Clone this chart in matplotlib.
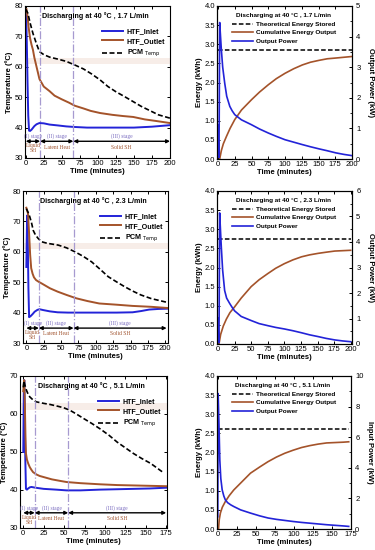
import matplotlib
matplotlib.use("Agg")
import matplotlib.pyplot as plt
from matplotlib.ticker import MultipleLocator, AutoMinorLocator

plt.rcParams['font.family'] = ['Liberation Sans', 'DejaVu Sans']
plt.rcParams['xtick.direction'] = 'in'
plt.rcParams['ytick.direction'] = 'in'

BLUE = '#2323d8'
BROWN = '#a4532a'
STAGE_C = '#7a6cc0'
HEAT_C = '#a0522d'
VLINE_C = '#a79ad0'

# ---------------- temperature data ----------------
titles = ['Discharging at 40 \u00b0C , 1.7 L/min',
          'Discharging at 40 \u00b0C , 2.3 L/min',
          'Discharging at 40 \u00b0C , 5.1 L/min']

# 1.7 L/min
t_in_1 = [0, 0.7, 1.5, 2.5, 3.5, 4.6, 6, 8, 10, 12, 15, 19, 25, 33, 45, 56, 68, 85, 103, 125, 150, 175, 200]
T_in_1 = [78, 76, 68, 55, 44, 39, 38.9, 39.3, 39.9, 40.5, 41.1, 41.5, 41.4, 41.0, 40.7, 40.4, 40.2,
          40.0, 40.0, 40.0, 40.0, 40.3, 40.8]
t_out_1 = [1, 2, 3, 4, 6, 8, 10, 12, 15, 19, 25, 33, 40, 50, 60, 68, 80, 90, 103, 120, 135, 149,
           165, 180, 200]
T_out_1 = [79, 77.5, 75.5, 73, 69.5, 67.3, 65.6, 63, 60, 56, 53.5, 52, 50.5, 49.3, 48.2, 47.2, 46.3,
           45.5, 44.8, 44.2, 43.8, 43.5, 42.7, 42.2, 41.5]
t_pcm_1 = [0, 3, 6, 10, 15, 19, 25, 33, 45, 56, 68, 80, 91, 103, 114, 125, 137, 150, 160, 172, 184, 200]
T_pcm_1 = [79, 77.6, 74.5, 71, 67.5, 65, 64, 63.2, 62.5, 61.8, 60.6, 59.3, 57.7, 55.7, 53.5, 51.8,
           50.2, 48.4, 47, 45.6, 44.2, 43.1]

# 2.3 L/min
t_in_2 = [0, 1, 1.5, 2.2, 3, 4, 6, 9, 12, 16, 19, 25, 34, 45, 60, 80, 100, 130, 153, 165, 177, 190, 204]
T_in_2 = [55, 70, 72, 62, 48, 38.5, 38.8, 39.5, 40.3, 40.9, 41.1, 40.8, 40.4, 40.1, 40.0, 40.0, 40.0,
          40.0, 40.1, 40.5, 41.0, 41.2, 41.3]
t_out_2 = [0, 2.4, 4, 5.5, 7, 9, 11, 14, 18, 22, 28, 34, 45, 58, 72, 88, 105, 130, 153, 180, 204]
T_out_2 = [74.5, 72.6, 66, 59, 54.6, 52.8, 51.6, 50.7, 50.1, 49.6, 48.8, 48, 46.9, 45.8, 44.7, 43.8,
           43, 42.6, 42.2, 41.9, 41.5]
t_pcm_2 = [0, 2.5, 5, 7.5, 10, 13, 17, 22, 30, 46, 58, 70, 82, 94, 106, 118, 130, 141, 153, 165, 180, 204]
T_pcm_2 = [74.2, 73, 71.5, 69.5, 67, 65.6, 64.4, 63.3, 62.8, 62.2, 61.3, 60, 58.5, 56.7, 54.3, 51.8,
           50.1, 48.6, 47.1, 45.8, 44.6, 43.3]

# 5.1 L/min
t_in_3 = [0, 0.6, 1.2, 1.8, 2.5, 3.3, 4.5, 6, 8, 10, 15, 25, 40, 53, 70, 94, 115, 135, 155, 175]
T_in_3 = [50, 65, 68.9, 62, 48, 40.3, 40.1, 40.4, 40.7, 40.8, 40.6, 40.3, 40.1, 39.9, 39.9, 40.1,
          40.2, 40.3, 40.4, 40.6]
t_out_3 = [0, 1.2, 2, 2.7, 3.3, 4.5, 6, 8, 10, 12, 16, 20, 25, 35, 45, 53, 70, 94, 115, 135, 155, 175]
T_out_3 = [66, 68.9, 62, 54, 49.6, 48, 47, 46, 45.3, 44.7, 44.1, 43.7, 43.4, 42.8, 42.4, 42.1, 41.8,
           41.5, 41.3, 41.2, 41.1, 41.0]
t_pcm_3 = [0, 0.8, 2, 4, 6, 8, 12, 16, 25, 33, 43, 50, 57, 65, 74, 84, 94, 105, 115, 125, 135, 145,
           156, 165, 172]
T_pcm_3 = [67, 68.7, 67.6, 66.2, 65.2, 64.5, 63.7, 63.2, 62.8, 62.5, 62, 61.6, 61, 60, 58.8, 57.5,
           56.1, 54.4, 52.6, 51.1, 49.6, 48.3, 47, 45.6, 44.5]

# stage boundaries (minutes) and end of test
bounds_1 = [0, 20, 66, 200]
bounds_2 = [0, 18, 68, 202]
bounds_3 = [0, 14, 55, 175]

# ---------------- energy / power data ----------------
theo_1, theo_2, theo_3 = 2.85, 2.74, 2.61

te_1 = [2.5, 5, 8, 12.6, 18, 25, 35, 50, 62, 75, 87, 100, 113, 126, 138, 151, 163, 176, 188, 200]
E_1 = [0, 0.22, 0.4, 0.59, 0.8, 1.03, 1.28, 1.55, 1.75, 1.94, 2.1, 2.24, 2.36, 2.46, 2.53, 2.58,
       2.62, 2.64, 2.66, 2.68]
tp_1 = [0, 0.5, 1.5, 2.5, 3.5, 5, 7, 10, 13, 17.6, 21, 25, 35, 50, 62, 75, 87, 100, 113, 126, 138,
        151, 163, 176, 188, 200]
P_1 = [1.1, 0.3, 0.05, 4.46, 4.1, 3.57, 3.0, 2.48, 2.05, 1.72, 1.58, 1.45, 1.28, 1.12, 0.98, 0.85,
       0.74, 0.63, 0.55, 0.47, 0.4, 0.33, 0.27, 0.2, 0.15, 0.11]

te_2 = [1.5, 4, 8, 12.6, 18, 25, 35, 50, 62, 75, 87, 100, 113, 126, 138, 151, 163, 176, 188, 200]
E_2 = [0, 0.25, 0.47, 0.65, 0.82, 0.97, 1.2, 1.5, 1.68, 1.84, 1.98, 2.1, 2.2, 2.28, 2.33, 2.37, 2.4,
       2.43, 2.44, 2.45]
tp_2 = [0, 0.5, 1.5, 2.5, 3.5, 5, 7, 10, 13, 17.6, 21, 25, 35, 50, 62, 75, 87, 100, 113, 126, 138,
        151, 163, 176, 188, 200]
P_2 = [1.0, 0.3, 0.05, 5.14, 4.6, 3.8, 2.9, 2.1, 1.8, 1.59, 1.45, 1.3, 1.08, 0.92, 0.8, 0.72, 0.65,
       0.59, 0.52, 0.44, 0.36, 0.29, 0.22, 0.16, 0.12, 0.09]

te_3 = [1, 2, 3.5, 6, 10, 15, 21, 30, 43, 55, 66, 77, 88, 99, 110, 121, 132, 143, 154, 165, 172]
E_3 = [0, 0.25, 0.42, 0.57, 0.72, 0.87, 1.02, 1.2, 1.46, 1.62, 1.76, 1.88, 1.98, 2.06, 2.13, 2.18,
       2.22, 2.25, 2.26, 2.27, 2.28]
tp_3 = [0, 0.5, 1.5, 2.7, 4, 5.8, 8, 10, 13, 17, 21, 30, 43, 55, 66, 77, 88, 99, 110, 121, 132, 143,
        154, 165, 172]
P_3 = [0.8, 8.85, 7.0, 4.5, 3.3, 2.56, 2.15, 1.9, 1.72, 1.58, 1.47, 1.25, 1.04, 0.86, 0.72, 0.63,
       0.56, 0.49, 0.43, 0.38, 0.33, 0.28, 0.24, 0.2, 0.17]

power_max = [5, 6, 10]
power_labels = ['Output Power (kW)', 'Output Power (kW)', 'Input Power (kW)']

fig = plt.figure(figsize=(3.75, 5.5), dpi=100)
W, H = 375.0, 550.0


def box(l, r, t, b):
    return [l / W, (H - b) / H, (r - l) / W, (b - t) / H]


left_boxes = [box(25, 170, 6, 158), box(23, 168, 191, 343), box(20, 167, 376, 528)]
right_boxes = [box(217, 352, 6, 159), box(217, 352, 191, 344), box(217, 351, 376, 529)]

temp_sets = [
    (t_in_1, T_in_1, t_out_1, T_out_1, t_pcm_1, T_pcm_1, bounds_1, (30, 80), (-1, 200), 35.5),
    (t_in_2, T_in_2, t_out_2, T_out_2, t_pcm_2, T_pcm_2, bounds_2, (30, 80), (-4.8, 204), 34.9),
    (t_in_3, T_in_3, t_out_3, T_out_3, t_pcm_3, T_pcm_3, bounds_3, (30, 70), (-4, 176), 34.0),
]

FS_TICK = 5.5
FS_LAB = 5.5
FS_TXT = 5.1
FS_TXT_R = 4.6

for i, (ti, Ti, to, To, tp, Tp, bd, ylim, xlim, ya) in enumerate(temp_sets):
    ax = fig.add_axes(left_boxes[i])
    ax.axhspan(61, 63, color='#f2e2da', alpha=0.6, lw=0, zorder=0)
    ax.plot(ti, Ti, color=BLUE, lw=1.4, label='HTF_Inlet')
    ax.plot(to, To, color=BROWN, lw=1.4, label='HTF_Outlet')
    ax.plot(tp, Tp, color='black', lw=1.2, ls=(0, (3, 1.5)), label='PCM $_{\\rm Temp}$')
    for b in bd[1:3]:
        ax.axvline(b, color=VLINE_C, lw=0.9, ls='-.')
    # stage arrows
    for a, b in zip(bd[:-1], bd[1:]):
        ax.annotate('', xy=(a, ya), xytext=(b, ya),
                    arrowprops=dict(arrowstyle='<|-|>', color='black', lw=1.0,
                                    mutation_scale=5, shrinkA=0, shrinkB=0))
    dy = (ylim[1] - ylim[0]) / 50.0
    mids = [(bd[0] + bd[1]) / 2, (bd[1] + bd[2]) / 2, (bd[2] + bd[3]) / 2]
    for m, s in zip(mids, ['(I) stage', '(II) stage', '(III) stage']):
        ax.text(m, ya + 1.7 * dy, s, fontsize=4, color=STAGE_C,
                family='Liberation Serif', ha='center', va='center')
    ax.text(mids[0], ya - 2.3 * dy, 'Liquid\nSH', fontsize=4, color=HEAT_C,
            family='Liberation Serif', ha='center', va='center', linespacing=1.0)
    ax.text(mids[1], ya - 1.9 * dy, 'Latent Heat', fontsize=4, color=HEAT_C,
            family='Liberation Serif', ha='center', va='center')
    ax.text(mids[2], ya - 1.9 * dy, 'Solid SH', fontsize=4, color=HEAT_C,
            family='Liberation Serif', ha='center', va='center')

    ax.set_xlim(*xlim)
    ax.set_ylim(*ylim)
    ax.xaxis.set_major_locator(MultipleLocator(25))
    ax.yaxis.set_major_locator(MultipleLocator(10))
    ax.tick_params(labelsize=FS_TICK, length=2.5, width=0.7, top=True, right=True, pad=1.5)
    ax.set_xlabel('Time (minutes)', fontsize=FS_LAB, fontweight='bold', labelpad=0.5)
    ax.set_ylabel('Temperature (\u00baC)', fontsize=FS_LAB, fontweight='bold', labelpad=1)
    ax.text(0.486, 0.934, titles[i], transform=ax.transAxes, fontsize=FS_TXT,
            fontweight='bold', ha='center', va='center')
    ax.legend(loc='upper left', bbox_to_anchor=(0.53, 0.855), frameon=False,
              prop=dict(size=FS_TXT, weight='bold'), handlelength=3.0,
              labelspacing=0.4, borderaxespad=0, borderpad=0, handletextpad=0.5)

energy_sets = [
    (te_1, E_1, tp_1, P_1, theo_1, (-1.5, 200), 200),
    (te_2, E_2, tp_2, P_2, theo_2, (-1.5, 202), 200),
    (te_3, E_3, tp_3, P_3, theo_3, (-1, 175), 172),
]

for i, (te, E, tp, P, theo, xlim, tend) in enumerate(energy_sets):
    ax = fig.add_axes(right_boxes[i])
    ax2 = ax.twinx()
    ld, = ax.plot([0, tend], [theo, theo], color='black', lw=1.1, ls=(0, (3, 1.5)),
                  label='Theoretical Energy Stored')
    le, = ax.plot(te, E, color=BROWN, lw=1.2, label='Cumulative Energy Output')
    lp, = ax2.plot(tp, P, color=BLUE, lw=1.2, label='Output Power')
    ax.set_xlim(*xlim)
    ax.set_ylim(0, 4)
    ax2.set_ylim(0, power_max[i])
    ax.xaxis.set_major_locator(MultipleLocator(25))
    ax.yaxis.set_major_locator(MultipleLocator(0.5))
    ax2.yaxis.set_major_locator(MultipleLocator(2 if power_max[i] == 10 else 1))
    ax2.yaxis.set_minor_locator(AutoMinorLocator(2))
    ax.tick_params(labelsize=FS_TICK, length=2.5, width=0.7, top=True, pad=1.5)
    ax2.tick_params(labelsize=FS_TICK, length=2.5, width=0.7, pad=3)
    ax2.tick_params(which='minor', length=1.5, width=0.6)
    ax.set_xlabel('Time (minutes)', fontsize=FS_LAB, fontweight='bold', labelpad=0.5)
    ax.set_ylabel('Energy (kWh)', fontsize=FS_LAB, fontweight='bold', labelpad=1)
    ax2.set_ylabel(power_labels[i], fontsize=FS_LAB, fontweight='bold', rotation=270,
                   va='center', ha='center')
    ax2.yaxis.set_label_coords(1.135, 0.5)
    ax.text(0.49, 0.94, titles[i], transform=ax.transAxes, fontsize=FS_TXT_R,
            fontweight='bold', ha='center', va='center')
    ax.legend(handles=[ld, le, lp], loc='upper left', bbox_to_anchor=(0.11, 0.9),
              frameon=False, prop=dict(size=FS_TXT_R, weight='bold'), handlelength=3.3,
              labelspacing=0.5, borderaxespad=0, borderpad=0, handletextpad=0.5)

fig.savefig('out.png', dpi=100)
